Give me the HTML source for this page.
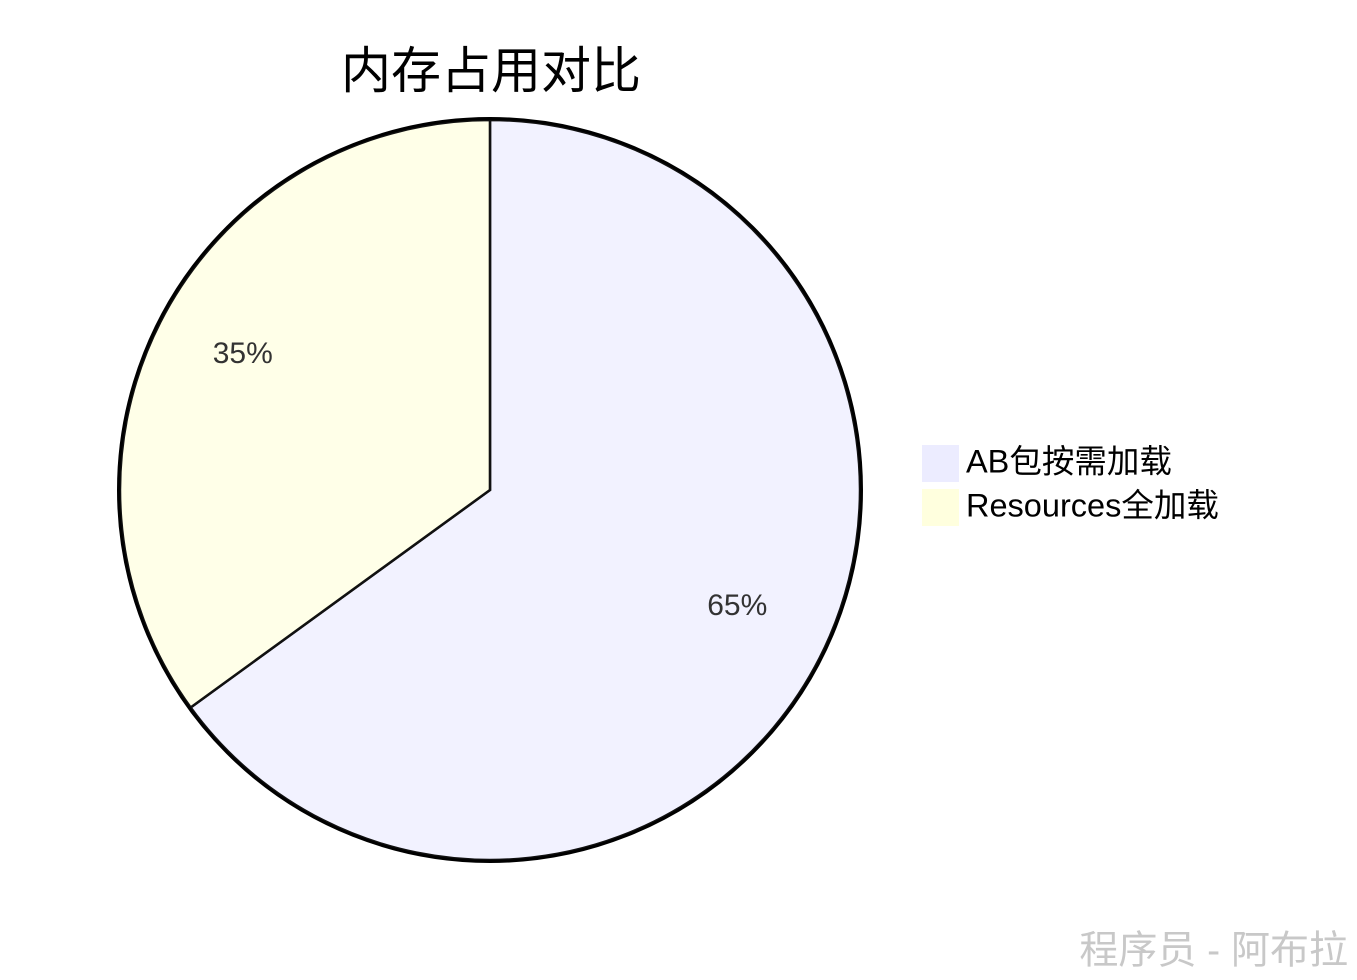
<!DOCTYPE html>
<html><head><meta charset="utf-8">
<style>
html,body{margin:0;padding:0;background:#fff;}
svg{display:block;font-family:"Liberation Sans","Noto Sans CJK SC",sans-serif;}
</style></head>
<body>
<svg id="chart" width="1357" height="980" viewBox="0 0 1357 980">
<text x="491" y="75" text-anchor="middle" dominant-baseline="middle" font-size="50" fill="#000">内存占用对比</text>
<g id="slices"></g>
<circle cx="490" cy="490" r="371.5" fill="none" stroke="#000" stroke-width="3"/>
<g id="labels"></g>
<g id="legend"></g>
<text x="1348" y="953" text-anchor="end" dominant-baseline="middle" font-size="39" fill="#c8c8c8">程序员 - 阿布拉</text>
</svg>
<script>
const categories = ["AB包按需加载", "Resources全加载"];
const values = [65, 35];
const colors = ["#ECECFF", "#FFFFDE"];

const NS = "http://www.w3.org/2000/svg";
const cx = 490, cy = 490, r = 370;
const total = values.reduce((a, b) => a + b, 0);
function pt(angle, rad) { return [cx + rad * Math.sin(angle), cy - rad * Math.cos(angle)]; }
const slicesG = document.getElementById('slices');
const labelsG = document.getElementById('labels');
const legendG = document.getElementById('legend');
let start = 0;
values.forEach((v, i) => {
  const a = v / total * Math.PI * 2;
  const end = start + a;
  const [x1, y1] = pt(start, r), [x2, y2] = pt(end, r);
  const p = document.createElementNS(NS, 'path');
  p.setAttribute('d', `M${cx},${cy} L${x1},${y1} A${r},${r} 0 ${a > Math.PI ? 1 : 0} 1 ${x2},${y2} Z`);
  p.setAttribute('fill', colors[i]);
  p.setAttribute('fill-opacity', '0.7');
  p.setAttribute('stroke', '#111');
  p.setAttribute('stroke-width', '2.5');
  
  
  slicesG.appendChild(p);
  const [lx, ly] = pt(start + a / 2, r * 0.75);
  const t = document.createElementNS(NS, 'text');
  t.setAttribute('x', lx);
  t.setAttribute('y', ly - 9);
  t.setAttribute('text-anchor', 'middle');
  t.setAttribute('dominant-baseline', 'middle');
  t.setAttribute('font-size', '30');
  t.setAttribute('fill', '#333');
  t.textContent = Math.round(v / total * 100) + '%';
  
  
  labelsG.appendChild(t);
  start = end;
});
categories.forEach((c, i) => {
  const y = 445 + i * 44;
  const rect = document.createElementNS(NS, 'rect');
  rect.setAttribute('x', 922);
  rect.setAttribute('y', y);
  rect.setAttribute('width', 37);
  rect.setAttribute('height', 37);
  rect.setAttribute('fill', colors[i]);
  
  
  legendG.appendChild(rect);
  const t = document.createElementNS(NS, 'text');
  t.setAttribute('x', 966);
  t.setAttribute('y', y + 19);
  t.setAttribute('dominant-baseline', 'middle');
  t.setAttribute('font-size', '32.5');
  t.setAttribute('fill', '#000');
  t.textContent = c;
  
  
  legendG.appendChild(t);
});
</script>
</body></html>
